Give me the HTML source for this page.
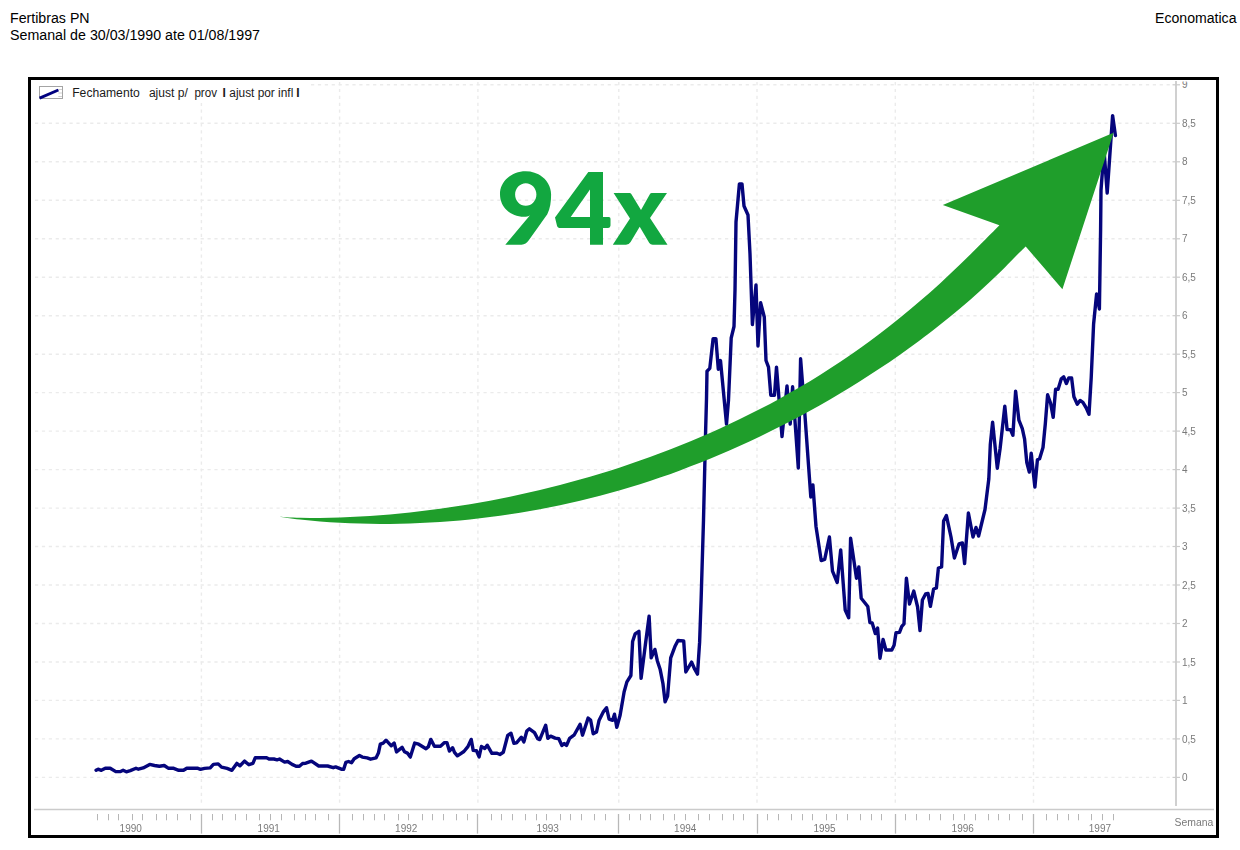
<!DOCTYPE html>
<html><head><meta charset="utf-8"><title>Fertibras PN</title>
<style>html,body{margin:0;padding:0;background:#fff;width:1240px;height:850px;overflow:hidden}</style></head>
<body>
<svg width="1240" height="850" viewBox="0 0 1240 850" style="display:block;position:absolute;left:0;top:0" font-family="'Liberation Sans',sans-serif">
<rect width="1240" height="850" fill="#fff"/>
<g fill="#000" font-size="14">
<text x="10" y="22.7" textLength="79.6" lengthAdjust="spacingAndGlyphs">Fertibras PN</text>
<text x="10" y="39.6" textLength="250" lengthAdjust="spacingAndGlyphs">Semanal de 30/03/1990 ate 01/08/1997</text>
<text x="1155" y="22.8" textLength="81.5" lengthAdjust="spacingAndGlyphs">Economatica</text>
</g>
<rect x="29.5" y="78.5" width="1188" height="758" fill="#fff" stroke="#000" stroke-width="3"/>
<g stroke="#ebebeb" stroke-width="1.4" stroke-dasharray="3.2 3.7" fill="none">
<path d="M35 777.4H1170"/>
<path d="M35 738.9H1170"/>
<path d="M35 700.4H1170"/>
<path d="M35 662.0H1170"/>
<path d="M35 623.5H1170"/>
<path d="M35 585.0H1170"/>
<path d="M35 546.5H1170"/>
<path d="M35 508.1H1170"/>
<path d="M35 469.6H1170"/>
<path d="M35 431.1H1170"/>
<path d="M35 392.6H1170"/>
<path d="M35 354.2H1170"/>
<path d="M35 315.7H1170"/>
<path d="M35 277.2H1170"/>
<path d="M35 238.8H1170"/>
<path d="M35 200.3H1170"/>
<path d="M35 161.8H1170"/>
<path d="M35 123.3H1170"/>
<path d="M35 84.8H1170"/>
<path d="M201.4 82V803"/>
<path d="M339.6 82V803"/>
<path d="M477.9 82V803"/>
<path d="M618.8 82V803"/>
<path d="M757.0 82V803"/>
<path d="M895.3 82V803"/>
<path d="M1033.5 82V803"/>
</g>
<path d="M1176 81V806" stroke="#cbcbcb" stroke-width="1.8"/>
<path d="M34 809.5H1214" stroke="#cbcbcb" stroke-width="1.3"/>
<g stroke="#cbcbcb" stroke-width="1.2">
<path d="M1172.5 777.4H1180"/>
<path d="M1172.5 738.9H1180"/>
<path d="M1172.5 700.4H1180"/>
<path d="M1172.5 662.0H1180"/>
<path d="M1172.5 623.5H1180"/>
<path d="M1172.5 585.0H1180"/>
<path d="M1172.5 546.5H1180"/>
<path d="M1172.5 508.1H1180"/>
<path d="M1172.5 469.6H1180"/>
<path d="M1172.5 431.1H1180"/>
<path d="M1172.5 392.6H1180"/>
<path d="M1172.5 354.2H1180"/>
<path d="M1172.5 315.7H1180"/>
<path d="M1172.5 277.2H1180"/>
<path d="M1172.5 238.8H1180"/>
<path d="M1172.5 200.3H1180"/>
<path d="M1172.5 161.8H1180"/>
<path d="M1172.5 123.3H1180"/>
<path d="M1172.5 84.8H1180"/>
</g>
<g stroke="#b6b6b6" stroke-width="1">
<path d="M97.5 814V820.3"/>
<path d="M108.5 814V820.3"/>
<path d="M118.5 814V820.3"/>
<path d="M132.5 814V820.3"/>
<path d="M142.5 814V820.3"/>
<path d="M156.5 814V820.3"/>
<path d="M166.5 814V820.3"/>
<path d="M177.5 814V820.3"/>
<path d="M190.5 814V820.3"/>
<path d="M212.5 814V820.3"/>
<path d="M222.5 814V820.3"/>
<path d="M235.5 814V820.3"/>
<path d="M246.5 814V820.3"/>
<path d="M259.5 814V820.3"/>
<path d="M270.5 814V820.3"/>
<path d="M281.5 814V820.3"/>
<path d="M294.5 814V820.3"/>
<path d="M305.5 814V820.3"/>
<path d="M315.5 814V820.3"/>
<path d="M328.5 814V820.3"/>
<path d="M352.5 814V820.3"/>
<path d="M363.5 814V820.3"/>
<path d="M374.5 814V820.3"/>
<path d="M384.5 814V820.3"/>
<path d="M398.5 814V820.3"/>
<path d="M408.5 814V820.3"/>
<path d="M422.5 814V820.3"/>
<path d="M432.5 814V820.3"/>
<path d="M443.5 814V820.3"/>
<path d="M456.5 814V820.3"/>
<path d="M467.5 814V820.3"/>
<path d="M491.5 814V820.3"/>
<path d="M501.5 814V820.3"/>
<path d="M512.5 814V820.3"/>
<path d="M525.5 814V820.3"/>
<path d="M536.5 814V820.3"/>
<path d="M546.5 814V820.3"/>
<path d="M560.5 814V820.3"/>
<path d="M570.5 814V820.3"/>
<path d="M581.5 814V820.3"/>
<path d="M594.5 814V820.3"/>
<path d="M605.5 814V820.3"/>
<path d="M629.5 814V820.3"/>
<path d="M640.5 814V820.3"/>
<path d="M650.5 814V820.3"/>
<path d="M663.5 814V820.3"/>
<path d="M674.5 814V820.3"/>
<path d="M685.5 814V820.3"/>
<path d="M698.5 814V820.3"/>
<path d="M709.5 814V820.3"/>
<path d="M722.5 814V820.3"/>
<path d="M733.5 814V820.3"/>
<path d="M743.5 814V820.3"/>
<path d="M767.5 814V820.3"/>
<path d="M778.5 814V820.3"/>
<path d="M791.5 814V820.3"/>
<path d="M802.5 814V820.3"/>
<path d="M812.5 814V820.3"/>
<path d="M826.5 814V820.3"/>
<path d="M836.5 814V820.3"/>
<path d="M847.5 814V820.3"/>
<path d="M860.5 814V820.3"/>
<path d="M871.5 814V820.3"/>
<path d="M881.5 814V820.3"/>
<path d="M905.5 814V820.3"/>
<path d="M916.5 814V820.3"/>
<path d="M929.5 814V820.3"/>
<path d="M940.5 814V820.3"/>
<path d="M953.5 814V820.3"/>
<path d="M964.5 814V820.3"/>
<path d="M975.5 814V820.3"/>
<path d="M988.5 814V820.3"/>
<path d="M998.5 814V820.3"/>
<path d="M1009.5 814V820.3"/>
<path d="M1022.5 814V820.3"/>
<path d="M1046.5 814V820.3"/>
<path d="M1057.5 814V820.3"/>
<path d="M1068.5 814V820.3"/>
<path d="M1078.5 814V820.3"/>
<path d="M1091.5 814V820.3"/>
<path d="M1102.5 814V820.3"/>
<path d="M1113.5 814V820.3"/>
</g>
<g stroke="#b8b8b8" stroke-width="1.3">
<path d="M201.5 814V833.6"/>
<path d="M339.5 814V833.6"/>
<path d="M477.5 814V833.6"/>
<path d="M618.5 814V833.6"/>
<path d="M757.5 814V833.6"/>
<path d="M895.5 814V833.6"/>
<path d="M1033.5 814V833.6"/>
</g>
<g fill="#7a7a7a" font-size="10" style="will-change:opacity" opacity="0.999">
<text x="1182" y="781.0">0</text>
<text x="1182" y="742.5">0,5</text>
<text x="1182" y="704.0">1</text>
<text x="1182" y="665.6">1,5</text>
<text x="1182" y="627.1">2</text>
<text x="1182" y="588.6">2,5</text>
<text x="1182" y="550.1">3</text>
<text x="1182" y="511.7">3,5</text>
<text x="1182" y="473.2">4</text>
<text x="1182" y="434.7">4,5</text>
<text x="1182" y="396.2">5</text>
<text x="1182" y="357.8">5,5</text>
<text x="1182" y="319.3">6</text>
<text x="1182" y="280.8">6,5</text>
<text x="1182" y="242.3">7</text>
<text x="1182" y="203.9">7,5</text>
<text x="1182" y="165.4">8</text>
<text x="1182" y="126.9">8,5</text>
<text x="119.6" y="831.8">1990</text>
<text x="257.6" y="831.8">1991</text>
<text x="395.1" y="831.8">1992</text>
<text x="536.6" y="831.8">1993</text>
<text x="674.1" y="831.8">1994</text>
<text x="813.4" y="831.8">1995</text>
<text x="951.6" y="831.8">1996</text>
<text x="1088.8" y="831.8">1997</text>
<text x="1174.6" y="826.2" textLength="38.8" lengthAdjust="spacingAndGlyphs">Semana</text>
</g>
<clipPath id="c9"><rect x="1170" y="81.5" width="40" height="20"/></clipPath>
<g opacity="0.999" clip-path="url(#c9)"><text x="1182" y="88.4" font-size="10" fill="#7a7a7a">9</text></g>
<rect x="32" y="80.5" width="276.5" height="22.5" fill="#fff"/>
<rect x="39.5" y="86.5" width="23" height="12" fill="#fff" stroke="#a4a4a4" stroke-width="1"/>
<path d="M58.3 89.5H62M58.3 93H62M58.3 96.5H62" stroke="#d0d0d0" stroke-width="1"/>
<path d="M39.6 98.2L58.4 90" stroke="#00007f" stroke-width="2.9"/>
<g fill="#1a1a1a" font-size="12">
<text x="72.2" y="96.8" textLength="67.6" lengthAdjust="spacingAndGlyphs">Fechamento</text>
<text x="148.9" y="96.8" textLength="39" lengthAdjust="spacingAndGlyphs">ajust p/</text>
<text x="194.4" y="96.8" textLength="22.6" lengthAdjust="spacingAndGlyphs">prov</text>
<text x="222.6" y="96.8" font-weight="bold">I</text>
<text x="229.3" y="96.8" textLength="64" lengthAdjust="spacingAndGlyphs">ajust por infl</text>
<text x="296.3" y="96.8" font-weight="bold">I</text>
</g>
<polyline fill="none" stroke="#05057c" stroke-width="3.4" stroke-linejoin="round" stroke-linecap="round" points="96.1,770.3 98.1,769.2 101.3,770.3 105.3,768.2 110.2,768.2 115.8,771.6 120.6,771.5 123.1,770.3 126.3,771.8 130.3,770.6 136.0,768.2 138.4,769.2 143.2,767.9 149.7,764.4 154.5,765.5 159.4,766.3 164.2,765.5 168.2,768.2 173.1,768.2 178.7,770.3 183.5,770.3 186.8,768.2 197.3,768.2 200.5,769.4 204.5,768.4 210.2,767.9 213.4,764.4 218.2,763.9 221.5,767.1 227.1,768.4 231.9,770.3 236.8,763.4 240.0,765.8 244.5,761.1 248.9,764.7 252.9,763.4 255.3,757.7 266.6,757.7 269.0,759.0 273.9,759.0 277.1,759.8 279.5,759.0 284.6,762.1 287.7,761.5 292.1,764.4 296.1,766.3 299.4,766.3 302.6,763.5 305.8,763.2 311.5,761.1 318.7,766.0 327.6,766.0 333.2,767.7 335.6,766.9 341.3,769.2 343.7,769.2 345.8,762.4 348.5,761.5 351.5,762.7 354.2,758.7 359.4,755.5 362.3,757.1 367.1,757.9 370.6,759.2 376.0,757.9 378.4,753.1 380.3,744.2 383.2,743.1 386.0,740.2 391.3,745.8 394.2,743.1 396.5,751.9 402.1,747.4 404.5,751.8 407.4,753.1 410.3,757.1 414.7,743.1 418.7,744.2 426.0,748.7 428.4,746.6 430.8,739.4 434.4,746.3 440.5,746.3 444.5,742.6 446.9,742.6 449.4,751.1 452.6,747.7 454.5,752.3 457.4,755.8 463.9,751.5 467.9,746.6 471.2,739.4 473.2,750.4 476.5,750.8 479.1,756.9 481.4,746.5 484.8,748.4 487.2,745.2 491.9,753.3 497.1,753.3 499.9,754.5 503.3,752.3 507.7,735.5 511.0,733.2 513.9,743.2 516.5,742.8 521.4,737.2 523.9,741.9 526.8,731.0 529.4,728.8 534.5,732.6 537.7,738.7 539.7,739.6 545.7,725.2 547.8,738.3 550.6,736.1 555.2,738.1 558.8,738.7 561.9,745.5 564.2,743.6 566.5,745.5 569.6,738.3 574.3,734.8 580.1,724.3 582.5,735.2 588.1,718.1 590.6,720.0 593.2,733.8 596.5,732.0 599.0,720.6 603.5,711.6 606.5,707.7 609.1,719.1 612.6,720.3 614.5,714.2 616.8,727.4 620.1,715.3 624.1,692.0 626.9,681.9 630.9,675.5 631.2,669.2 632.6,641.6 635.1,633.9 638.9,631.3 641.1,678.4 645.3,645.2 649.1,616.2 651.2,657.9 654.9,649.4 657.3,660.7 660.1,669.2 662.9,683.3 665.1,701.7 667.6,696.0 670.7,657.9 674.9,646.6 678.0,640.5 683.7,640.9 685.8,672.0 691.6,662.1 694.7,669.2 697.5,674.1 699.6,642.4 701.1,600.0 703.5,520.0 705.6,431.8 706.5,398.8 707.0,371.2 709.8,368.4 713.1,338.7 715.9,338.7 718.3,369.2 720.5,360.6 726.5,424.0 728.5,400.0 731.2,338.0 734.0,326.5 735.0,290.0 736.0,222.0 739.4,184.0 742.0,184.0 744.0,206.0 748.0,215.0 750.0,254.0 752.4,324.5 756.0,285.0 758.0,346.0 760.6,302.8 764.3,317.0 766.0,360.5 768.5,367.2 770.8,395.2 774.5,395.2 776.5,367.1 782.0,436.5 787.0,386.0 790.2,424.0 792.6,386.8 798.3,468.0 800.6,358.8 805.0,416.0 808.5,465.0 810.8,497.0 812.9,485.0 816.0,526.5 821.2,560.6 824.7,559.4 829.4,537.0 832.5,571.2 837.2,582.5 840.7,550.0 845.2,610.0 848.7,617.8 850.6,538.2 856.5,578.2 858.8,567.0 861.2,598.2 867.8,606.5 869.9,622.5 872.2,623.0 875.3,633.5 877.6,628.1 880.0,658.2 883.1,639.4 885.9,650.0 891.8,650.0 894.1,645.3 896.0,632.8 899.5,632.4 901.8,626.3 904.0,623.8 906.4,578.3 909.5,604.0 913.8,591.1 917.6,607.0 920.0,630.6 922.4,600.0 925.6,594.0 928.0,593.4 930.4,606.4 933.6,589.0 936.4,588.0 938.4,568.0 941.6,567.0 943.6,521.0 946.4,515.6 951.0,537.0 954.4,558.0 959.0,544.0 962.4,543.0 964.6,563.6 968.4,513.0 973.0,537.0 976.0,527.4 978.6,536.0 985.0,509.5 988.8,479.0 990.3,444.7 992.6,422.1 997.3,468.2 1000.1,448.5 1004.8,406.1 1007.1,429.6 1010.5,429.6 1012.9,435.3 1015.6,391.1 1018.9,420.2 1022.3,428.7 1024.6,439.1 1026.8,462.6 1029.3,472.0 1031.2,453.2 1034.9,487.1 1037.4,459.8 1039.6,458.8 1043.0,447.5 1045.3,424.0 1047.6,394.8 1050.6,403.3 1053.2,417.4 1055.6,389.2 1058.1,389.2 1061.3,378.8 1063.7,376.9 1066.4,383.5 1068.8,377.9 1071.6,377.9 1073.9,396.7 1077.3,404.2 1080.1,400.5 1082.9,402.4 1086.3,408.0 1089.0,414.3 1091.2,378.0 1093.6,324.0 1096.6,294.0 1099.4,309.0 1100.0,270.0 1100.6,230.0 1101.0,190.0 1104.0,150.0 1107.2,193.0 1112.6,115.6 1115.4,135.6"/>
<path d="M279.7 516.8 C283.1 517.0 293.3 517.6 300.0 517.8 C306.7 518.0 313.3 518.0 320.0 518.0 C326.7 518.0 333.3 517.7 340.0 517.5 C346.7 517.3 353.3 517.0 360.0 516.6 C366.7 516.2 373.3 515.7 380.0 515.2 C386.7 514.7 393.3 514.0 400.0 513.4 C406.7 512.8 413.3 512.1 420.0 511.3 C426.7 510.5 433.3 509.6 440.0 508.7 C446.7 507.8 453.3 506.9 460.0 505.8 C466.7 504.8 473.3 503.6 480.0 502.4 C486.7 501.2 493.3 500.0 500.0 498.7 C506.7 497.4 513.3 496.1 520.0 494.6 C526.7 493.2 533.3 491.6 540.0 490.0 C546.7 488.4 553.3 486.7 560.0 485.0 C566.7 483.3 573.3 481.5 580.0 479.6 C586.7 477.7 593.3 475.7 600.0 473.7 C606.7 471.7 613.3 469.6 620.0 467.4 C626.7 465.2 633.3 463.0 640.0 460.6 C646.7 458.2 653.3 455.8 660.0 453.3 C666.7 450.8 673.3 448.3 680.0 445.6 C686.7 442.9 693.3 440.2 700.0 437.3 C706.7 434.4 713.3 431.4 720.0 428.4 C726.7 425.3 733.3 422.2 740.0 419.0 C746.7 415.8 753.3 412.4 760.0 409.0 C766.7 405.6 773.3 402.1 780.0 398.4 C786.7 394.7 793.3 390.9 800.0 387.0 C806.7 383.1 813.3 379.1 820.0 374.9 C826.7 370.7 833.3 366.4 840.0 362.0 C846.7 357.6 853.3 352.9 860.0 348.2 C866.7 343.4 873.3 338.6 880.0 333.5 C886.7 328.4 893.3 323.2 900.0 317.8 C906.7 312.4 913.3 306.8 920.0 301.1 C926.7 295.4 933.3 289.5 940.0 283.4 C946.7 277.3 953.3 271.0 960.0 264.6 C966.7 258.2 973.4 251.4 980.0 244.8 C986.6 238.2 996.2 228.6 999.4 225.3 L942.8 205.1 L1113.6 132.8 L1062.4 289.3 L1025.7 246.4 C1024.8 247.3 1024.3 247.8 1020.0 252.1 C1015.7 256.4 1006.7 265.8 1000.0 272.3 C993.3 278.8 986.7 285.0 980.0 291.0 C973.3 297.0 966.7 302.9 960.0 308.5 C953.3 314.1 946.7 319.5 940.0 324.8 C933.3 330.1 926.7 335.2 920.0 340.2 C913.3 345.2 906.7 350.0 900.0 354.7 C893.3 359.4 886.7 363.9 880.0 368.3 C873.3 372.7 866.7 377.1 860.0 381.3 C853.3 385.5 846.7 389.5 840.0 393.5 C833.3 397.5 826.7 401.4 820.0 405.2 C813.3 409.0 806.7 412.6 800.0 416.2 C793.3 419.8 786.7 423.2 780.0 426.6 C773.3 430.0 766.7 433.3 760.0 436.5 C753.3 439.7 746.7 442.8 740.0 445.8 C733.3 448.8 726.7 451.7 720.0 454.5 C713.3 457.3 706.7 460.2 700.0 462.8 C693.3 465.4 686.7 467.9 680.0 470.4 C673.3 472.9 666.7 475.3 660.0 477.6 C653.3 479.9 646.7 482.1 640.0 484.2 C633.3 486.3 626.7 488.3 620.0 490.2 C613.3 492.1 606.7 494.0 600.0 495.8 C593.3 497.6 586.7 499.2 580.0 500.8 C573.3 502.4 566.7 503.9 560.0 505.3 C553.3 506.7 546.7 508.1 540.0 509.3 C533.3 510.6 526.7 511.7 520.0 512.8 C513.3 513.9 506.7 514.9 500.0 515.8 C493.3 516.7 486.7 517.5 480.0 518.3 C473.3 519.1 466.7 519.8 460.0 520.4 C453.3 521.0 446.7 521.5 440.0 522.0 C433.3 522.5 426.7 522.8 420.0 523.1 C413.3 523.4 406.7 523.6 400.0 523.7 C393.3 523.8 386.7 523.9 380.0 523.9 C373.3 523.9 366.7 523.8 360.0 523.6 C353.3 523.4 346.7 523.1 340.0 522.8 C333.3 522.4 326.7 522.0 320.0 521.5 C313.3 521.0 306.7 520.4 300.0 519.6 C293.3 518.8 283.1 517.3 279.7 516.8Z" fill="#1f9e2b"/>
<path fill-rule="evenodd" fill="#12a740" d="M525.6 171.2C539.7 171.2 551.1 181.4 551.1 194.5C551.1 201.8 550.2 208.3 547.3 214.3L528.6 240.6C526.6 243.4 524.8 244.7 521.5 244.7L505.3 244.7L530 215.2C528.5 216.2 526.3 216.7 524 216.7C510.5 216.7 500 207 500 194.2C500 181.4 511.5 171.2 525.6 171.2ZM525.8 183.2C519.9 183.2 515.1 188.2 515.1 194.5C515.1 200.8 519.9 205.8 525.8 205.8C531.7 205.8 536.4 200.8 536.4 194.5C536.4 188.2 531.7 183.2 525.8 183.2Z M588.3 172.1L603 172.1L603 217.1L608.9 217.1Q610.5 217.1 610.5 218.7L610.5 225.6Q610.5 228 608.2 228L603 228L603 244.8L590 244.8L590 228L560.6 228C558.6 228 557.4 227.3 557 225.7L555 217.6ZM590 189.6L570.7 217.1L590 217.1Z M613.6 193.1L629.5 193.1Q630.7 193.1 631.3 194.1L641 210L650 194.1Q650.6 193.1 651.8 193.1L667 193.1L650 217.9L667.5 244.8L652.6 244.8Q650.5 244.8 649.3 243L639.7 226.8L630.6 242Q628.9 244.8 626 244.8L612.8 244.8L630 218.4Z"/>
</svg>
</body></html>
